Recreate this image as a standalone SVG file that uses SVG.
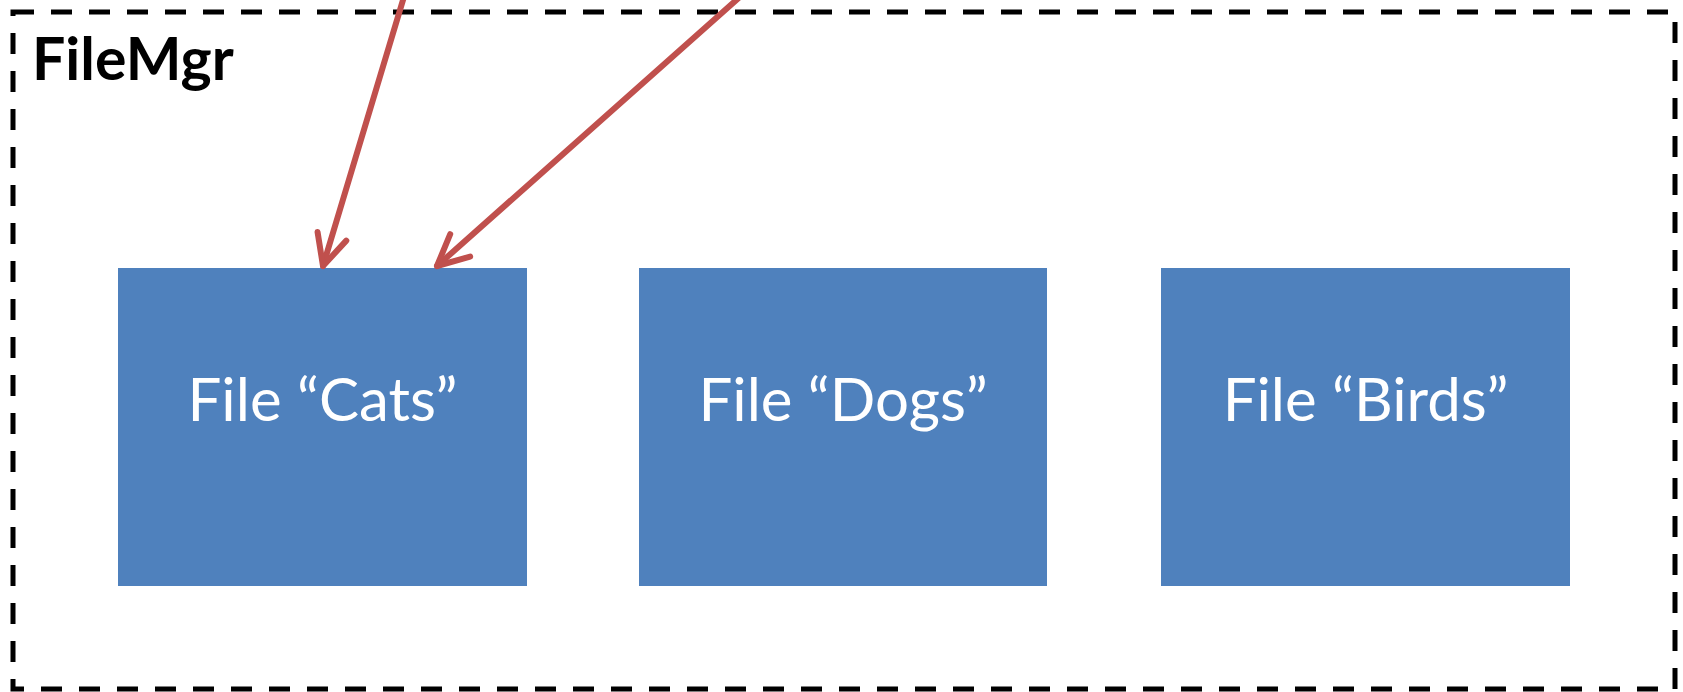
<svg xmlns="http://www.w3.org/2000/svg" width="1683" height="692" viewBox="0 0 1683 692">
  <style>
    .frame { fill: none; stroke: #000; stroke-width: 5; stroke-dasharray: 21 17; }
    .title { font-family: Lato, "Liberation Sans", sans-serif; font-weight: bold; font-size: 59px; fill: #000; }
    .box { fill: #4F81BD; }
    .label { font-family: Lato, "Liberation Sans", sans-serif; font-size: 60px; fill: #fff; text-anchor: middle; dominant-baseline: alphabetic; }
    .link { fill: none; stroke: #C0504D; stroke-width: 6; stroke-linecap: round; marker-end: url(#open); }
  </style>
  <defs>
    <marker id="open" markerUnits="userSpaceOnUse" markerWidth="50" markerHeight="50" refX="0" refY="0" viewBox="-40 -25 50 50" orient="auto" overflow="visible">
      <path d="M -31 -15 L 0 0 L -31 15" fill="none" stroke="#C0504D" stroke-width="6" stroke-linecap="round" stroke-linejoin="round"/>
    </marker>
  </defs>
  <rect width="1683" height="692" fill="#fff"/>

  <g id="filemgr">
    <rect class="frame" x="13" y="12" width="1662" height="677"/>
    <text class="title" x="32" y="80">FileMgr</text>
  </g>

  <g id="file-cats">
    <rect class="box" x="118" y="268" width="409" height="318"/>
    <text class="label" x="322.5" y="421">File “Cats”</text>
  </g>

  <g id="file-dogs">
    <rect class="box" x="639" y="268" width="408" height="318"/>
    <text class="label" x="843" y="421">File “Dogs”</text>
  </g>

  <g id="file-birds">
    <rect class="box" x="1161" y="268" width="409" height="318"/>
    <text class="label" x="1365.5" y="421">File “Birds”</text>
  </g>

  <g id="connectors">
    <path class="link" d="M 404.5 -5 L 323 266"/>
    <path class="link" d="M 742 -5 L 437 266"/>
  </g>
</svg>
